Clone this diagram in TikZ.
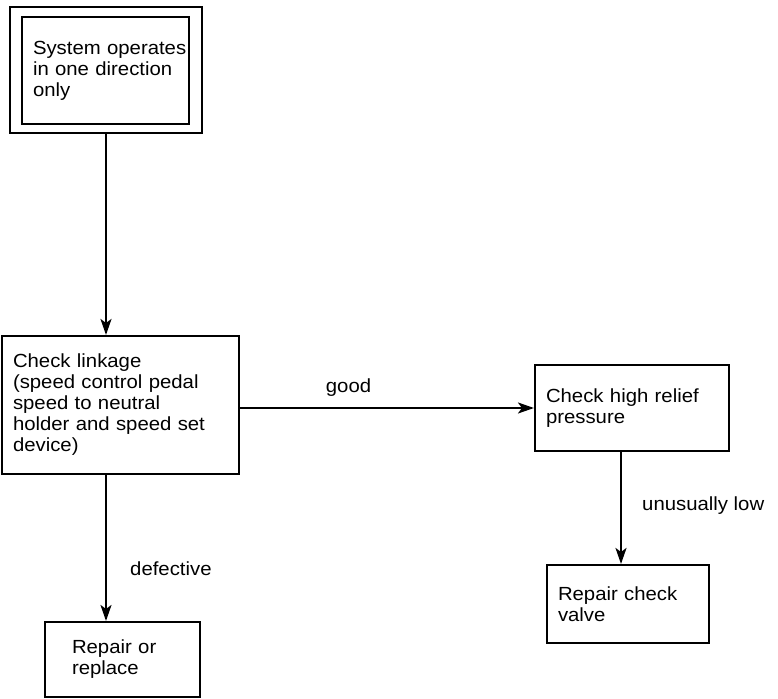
\documentclass[tikz,border=0pt]{standalone}
\usepackage{fontspec}
\setmainfont{Liberation Sans}[FakeStretch=1.07]
\usetikzlibrary{arrows.meta}
\hyphenpenalty=10000
\exhyphenpenalty=10000
\begin{document}
\begin{tikzpicture}[x=1pt,y=-1pt,
  lw/.style={line width=2.1pt},
  txt/.style={font=\fontsize{19}{21}\selectfont},
  box/.style={lw, draw, txt, align=left, inner xsep=11pt, inner ysep=0pt},
  arr/.style={lw, -{Stealth[length=16pt,width=11pt,inset=4pt]}},
  lbl/.style={txt, inner sep=0pt}]
\useasboundingbox (0,0) rectangle (778,698);
% top double box
\node[lw, draw, minimum width=192pt, minimum height=126pt, inner sep=0pt] (sys) at (106,70) {};
\node[box, minimum width=167pt, minimum height=107pt, text width=145pt] (sysin) at (105.5,70.5)
  {\mbox{System operates}\\\mbox{in one direction}\\only};
% check linkage
\node[box, minimum width=237pt, minimum height=138pt, text width=215pt] (link) at (120.5,405)
  {Check linkage\\\mbox{(speed control pedal}\\speed to neutral\\\mbox{holder and speed set}\\device)};
% high relief
\node[box, minimum width=194pt, minimum height=86pt, text width=172pt] (hr) at (632,408)
  {\mbox{Check high relief}\\pressure};
% repair check valve
\node[box, minimum width=162pt, minimum height=78pt, text width=140pt] (rcv) at (628,604)
  {\mbox{Repair check}\\valve};
% repair or replace
\node[box, inner xsep=27pt, minimum width=155pt, minimum height=75pt, text width=101pt] (rr) at (122.5,659.5)
  {\mbox{Repair or}\\replace};
% connectors
\draw[arr] (sys.south) -- (sys.south |- link.north);
\draw[arr] (link.east |- hr.west) -- (hr.west);
\draw[arr] (sys.south |- link.south) -- (sys.south |- rr.north);
\draw[arr] ([xshift=-11pt]hr.south) -- ([xshift=-11pt]hr.south |- rcv.north);
% labels
\node[lbl, anchor=base] (good) at (348.5,392) {good};
\node[lbl, anchor=base west] (low) at (642,510) {unusually low};
\node[lbl, anchor=base west] (def) at (130,575) {defective};
\end{tikzpicture}
\end{document}
